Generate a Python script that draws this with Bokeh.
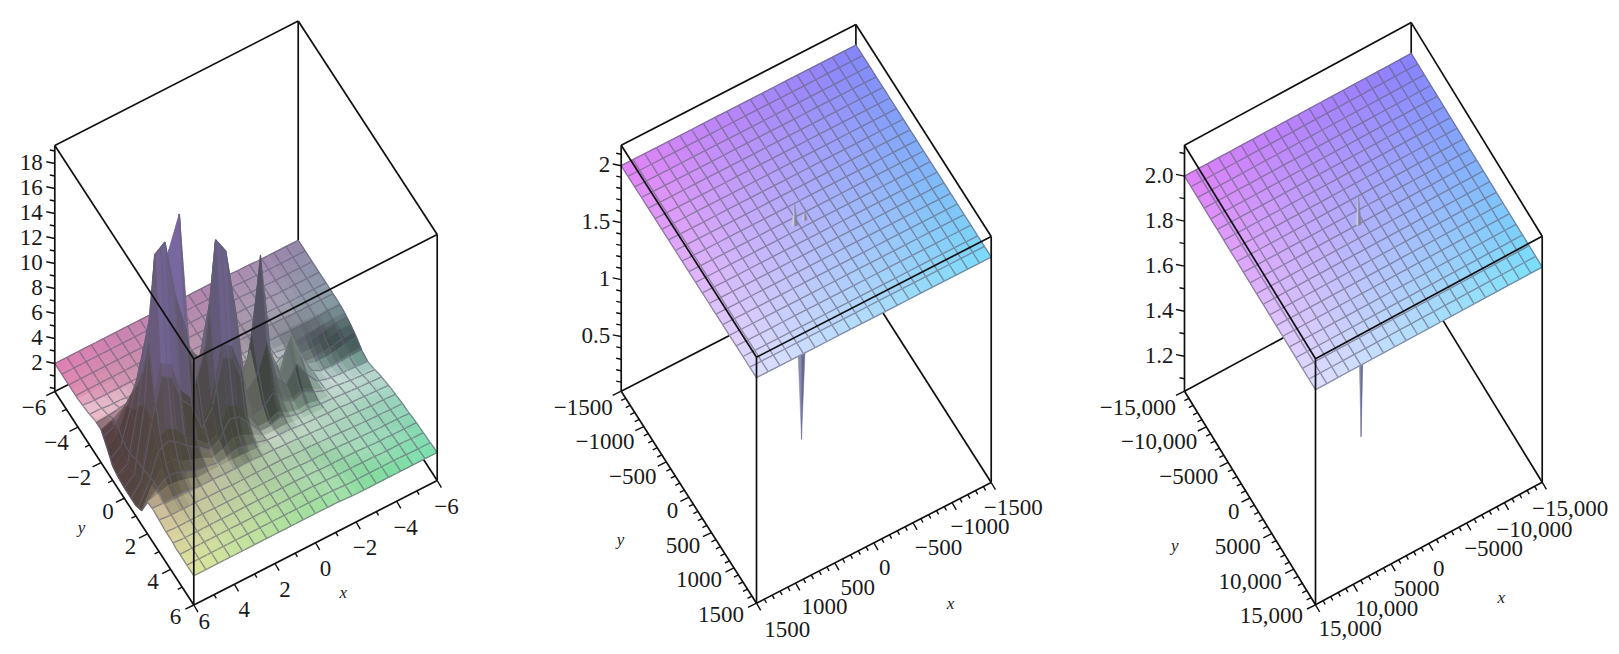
import numpy as np
from bokeh.core.properties import value
from bokeh.embed import file_html
from bokeh.layouts import row
from bokeh.models import Range1d
from bokeh.plotting import figure
from bokeh.resources import INLINE

# ---------- data ----------
# heights of the left surface: one row per x (-6 .. 6), one column per y (-6 .. 6), step 0.5
Z1_ROWS = [
 [1.9,1.9,1.9,1.9,1.9,1.9,1.9,1.9,1.8,1.6,1.3,0.9,0.75,0.9,1.15,1.3,1.45,1.55,1.65,1.7,1.8,1.85,1.9,1.95,2.0],
 [1.9,1.9,1.9,1.9,1.9,1.9,1.9,1.9,1.8,1.6,1.2,0.9,0.8,0.95,1.2,1.35,1.5,1.6,1.65,1.75,1.8,1.85,1.9,1.95,2.0],
 [1.9,1.9,1.9,1.9,1.9,1.9,1.9,1.85,1.75,1.4,1.0,0.8,0.85,1.0,1.25,1.4,1.55,1.6,1.7,1.75,1.8,1.9,1.95,1.95,2.0],
 [1.9,1.9,1.9,1.9,1.9,1.9,1.9,1.85,1.65,1.25,0.9,0.75,0.9,1.1,1.3,1.45,1.6,1.65,1.7,1.75,1.85,1.9,1.95,2.0,2.0],
 [1.9,1.9,1.9,1.9,1.9,1.9,1.9,1.85,1.6,1.2,0.9,0.8,1.0,1.25,1.4,1.5,1.6,1.7,1.75,1.8,1.85,1.9,1.95,2.0,2.0],
 [1.95,1.95,1.95,1.95,1.95,1.95,1.95,1.85,1.6,1.25,1.1,1.3,1.25,1.3,1.45,1.6,1.7,1.75,1.8,1.85,1.9,1.95,2.0,2.0,2.0],
 [1.95,1.95,1.95,1.95,1.95,1.95,1.95,1.9,1.75,1.6,2.0,2.9,2.2,1.7,1.5,1.6,1.7,1.8,1.85,1.9,1.95,2.0,2.0,2.0,2.0],
 [2.0,2.0,2.0,2.0,2.0,2.0,2.0,1.9,1.8,1.9,2.8,5.0,3.4,2.2,1.7,1.65,1.75,1.85,1.9,1.95,2.0,2.0,2.0,2.0,2.0],
 [2.0,2.0,2.0,2.0,2.0,2.0,2.0,1.9,1.8,1.75,2.0,2.4,2.2,1.8,1.6,1.7,1.8,1.9,1.95,2.0,2.0,2.0,2.0,2.0,2.0],
 [2.0,2.0,2.0,2.0,2.0,2.0,2.0,1.95,1.85,1.95,2.6,4.5,3.2,2.3,1.8,1.8,1.85,1.95,2.0,2.0,2.0,2.0,2.05,2.05,2.05],
 [2.0,2.0,2.0,2.0,2.0,2.0,2.0,1.95,2.0,3.0,5.5,12.7,6.5,3.5,2.3,1.9,1.95,2.0,2.0,2.0,2.05,2.05,2.05,2.1,2.1],
 [2.0,2.0,2.0,2.0,2.0,2.0,2.0,1.95,1.95,2.2,3.0,5.5,4.0,2.6,1.9,1.85,2.0,2.05,2.05,2.05,2.05,2.1,2.1,2.1,2.1],
 [2.0,2.0,2.0,2.0,2.0,2.0,2.0,2.0,1.9,1.8,2.2,3.0,3.2,2.4,1.9,1.9,2.05,2.1,2.1,2.1,2.1,2.1,2.1,2.1,2.1],
 [2.0,2.0,2.0,2.0,2.0,2.0,2.0,2.0,1.95,2.4,4.0,8.0,10.0,6.0,3.2,2.4,2.1,2.1,2.1,2.1,2.1,2.1,2.1,2.1,2.1],
 [2.0,2.0,2.0,2.0,2.0,2.0,2.0,2.0,2.1,3.0,5.5,10.0,15.4,8.5,4.5,2.8,2.15,2.15,2.1,2.1,2.1,2.1,2.1,2.1,2.1],
 [2.0,2.0,2.0,2.0,2.0,2.0,2.0,2.0,2.1,3.0,6.0,11.0,16.7,9.0,4.8,3.0,2.2,2.15,2.1,2.1,2.1,2.1,2.1,2.1,2.1],
 [2.0,2.0,2.0,2.0,2.0,2.0,2.0,2.0,1.95,2.4,3.6,7.0,8.5,5.0,3.0,2.5,2.2,2.15,2.1,2.1,2.1,2.1,2.1,2.1,2.1],
 [2.0,2.0,2.0,2.0,2.0,2.0,2.0,2.0,2.0,2.5,4.5,8.0,6.0,3.5,2.6,2.2,2.2,2.15,2.1,2.1,2.1,2.1,2.1,2.1,2.1],
 [2.0,2.0,2.0,2.0,2.0,2.0,2.0,2.1,2.6,4.5,9.0,19.3,11.0,6.0,3.4,2.6,2.2,2.2,2.15,2.1,2.1,2.1,2.1,2.1,2.1],
 [2.0,2.0,2.0,2.0,2.0,2.0,2.0,2.2,3.0,5.5,11.0,16.9,14.0,7.0,4.0,2.9,2.2,2.2,2.15,2.1,2.1,2.1,2.1,2.1,2.1],
 [2.0,2.0,2.0,2.0,2.0,2.0,2.0,2.3,3.2,6.0,10.0,14.0,18.6,9.5,5.0,3.2,2.5,2.2,2.2,2.15,2.1,2.1,2.1,2.1,2.1],
 [2.0,2.0,2.0,2.0,2.0,2.0,2.1,2.5,3.6,6.0,9.0,12.0,18.0,10.0,5.5,3.8,2.7,2.3,2.2,2.15,2.1,2.1,2.1,2.1,2.1],
 [2.0,2.0,2.0,2.0,2.0,2.0,2.1,2.4,3.2,4.2,4.5,5.5,6.5,6.0,5.0,3.5,2.8,2.3,2.2,2.15,2.1,2.1,2.1,2.1,2.1],
 [2.0,2.0,2.0,2.0,2.0,2.0,2.2,2.4,2.7,2.2,1.5,1.2,1.3,1.5,2.0,2.5,2.5,2.3,2.2,2.15,2.1,2.1,2.1,2.1,2.1],
 [2.0,2.0,2.0,2.0,2.0,2.1,2.2,2.4,2.4,1.7,0.9,0.7,0.6,0.6,0.6,0.9,2.3,2.4,2.3,2.2,2.2,2.1,2.1,2.1,2.1],
]
# the two other surfaces are flat sheets, with a needle at the centre
PLANE2_LEVEL = 2.0
PLANE3_LEVEL = 2.0
DOWN2 = (60.0, 0.0, 0.02)      # x, y, z of the needle's lowest point
UP2 = [(190.0, 75.0, 2.18), (60.0, 70.0, 2.06)]
DOWN3 = (300.0, 0.0, 1.05)
UP3 = [(600.0, -60.0, 2.13)]

XY_RANGE1, Z_RANGE1 = (-6, 6), (-0.24, 19.44)
XY_RANGE2, Z_RANGE2 = (-1500, 1500), (0.02, 2.18)
XY_RANGE3, Z_RANGE3 = (-15000, 15000), (1.045, 2.137)

Y_TICKS1 = [-6, -4, -2, 0, 2, 4, 6]
Y_LABELS1 = ["−6", "−4", "−2", "0", "2", "4", "6"]
X_TICKS1 = [6, 4, 2, 0, -2, -4, -6]
X_LABELS1 = ["6", "4", "2", "0", "−2", "−4", "−6"]
Z_TICKS1 = [2, 4, 6, 8, 10, 12, 14, 16, 18]
Z_LABELS1 = ["2", "4", "6", "8", "10", "12", "14", "16", "18"]

Y_TICKS2 = [-1500, -1000, -500, 0, 500, 1000, 1500]
Y_LABELS2 = ["−1500", "−1000", "−500", "0", "500", "1000", "1500"]
X_TICKS2 = [1500, 1000, 500, 0, -500, -1000, -1500]
X_LABELS2 = ["1500", "1000", "500", "0", "−500", "−1000", "−1500"]
Z_TICKS2 = [0.5, 1.0, 1.5, 2.0]
Z_LABELS2 = ["0.5", "1", "1.5", "2"]

Y_TICKS3 = [-15000, -10000, -5000, 0, 5000, 10000, 15000]
Y_LABELS3 = ["−15,000", "−10,000", "−5000", "0", "5000", "10,000", "15,000"]
X_TICKS3 = [15000, 10000, 5000, 0, -5000, -10000, -15000]
X_LABELS3 = ["15,000", "10,000", "5000", "0", "−5000", "−10,000", "−15,000"]
Z_TICKS3 = [1.2, 1.4, 1.6, 1.8, 2.0]
Z_LABELS3 = ["1.2", "1.4", "1.6", "1.8", "2.0"]

# ---------- views and styles ----------
FONT = value("Liberation Serif")
TICK_SIZE = "23px"
WIDTHS = [470, 580, 561]
H = 646
GRID_GREY = np.array([128.0, 124.0, 150.0])
MESH_CELLS = 20


def lerp_hex(c):
    return np.array([int(c[i:i + 2], 16) for i in (1, 3, 5)], float)


def to_hex(c):
    c = np.clip(c, 0, 255).astype(int)
    return "#%02x%02x%02x" % tuple(c)


class View:
    def __init__(self, L, F, R, height, xr, zr):
        self.L, self.F, self.R = np.array(L, float), np.array(F, float), np.array(R, float)
        self.height, self.xr, self.zr = height, xr, zr

    def p(self, x, y, z):
        tx = (x - self.xr[0]) / (self.xr[1] - self.xr[0])
        ty = (y - self.xr[0]) / (self.xr[1] - self.xr[0])
        tz = (z - self.zr[0]) / (self.zr[1] - self.zr[0])
        s = self.L + (self.F - self.L) * ty + (self.R - self.F) * (1 - tx)
        return s[0], s[1] - self.height * tz


def make_fig(left, w):
    p = figure(width=w, height=H, x_range=Range1d(left, left + w), y_range=Range1d(H, 0),
               x_axis_type=None, y_axis_type=None, toolbar_location=None, output_backend="svg",
               min_border=0, outline_line_color=None, background_fill_color="white",
               border_fill_color="white")
    p.grid.visible = False
    return p


def box_points(v):
    x0, x1 = v.xr
    z0, z1 = v.zr
    return dict(
        L=v.p(x1, x0, z0), F=v.p(x1, x1, z0), R=v.p(x0, x1, z0), B=v.p(x0, x0, z0),
        LT=v.p(x1, x0, z1), FT=v.p(x1, x1, z1), RT=v.p(x0, x1, z1), BT=v.p(x0, x0, z1))


def draw_edges(p, pts, names, width=1.7):
    xs = [[pts[a][0], pts[b][0]] for a, b in names]
    ys = [[pts[a][1], pts[b][1]] for a, b in names]
    p.multi_line(xs, ys, line_color="#101010", line_width=width)


BACK_EDGES = [("L", "B"), ("B", "R"), ("B", "BT")]
FRONT_EDGES = [("L", "F"), ("F", "R"), ("L", "LT"), ("R", "RT"), ("F", "FT"),
               ("LT", "BT"), ("BT", "RT"), ("LT", "FT"), ("FT", "RT")]


def resample(A, src, dst):
    """Bilinear values of a grid A (rows, cols[, channels]) on the render coordinates."""
    idx = np.interp(dst, src, np.arange(len(src)))
    i0 = np.clip(np.floor(idx).astype(int), 0, len(src) - 2)
    f = idx - i0
    out = np.zeros((len(dst), len(dst)) + A.shape[2:])
    for a, (ia, fa) in enumerate(zip(i0, f)):
        for b, (ib, fb) in enumerate(zip(i0, f)):
            out[a, b] = (A[ia, ib] * (1 - fa) * (1 - fb) + A[ia + 1, ib] * fa * (1 - fb)
                         + A[ia, ib + 1] * (1 - fa) * fb + A[ia + 1, ib + 1] * fa * fb)
    return out


def surface_patches(v, Z, corner_cols, shade=False):
    """Painter-ordered cells (far to near) and their mesh lines through one patches glyph."""
    m = Z.shape[0]
    span = v.xr[1] - v.xr[0]
    data_c = np.linspace(v.xr[0], v.xr[1], m)
    mesh_c = np.linspace(v.xr[0], v.xr[1], MESH_CELLS + 1)
    scale = 1000.0 / span
    coords = np.array(sorted(set(np.round(data_c * scale, 4)) | set(np.round(mesh_c * scale, 4)))) / scale
    mesh_set = set(np.round(mesh_c * scale, 4))
    on_mesh = [round(float(c * scale), 4) in mesh_set for c in coords]

    cL, cB, cR, cF = [lerp_hex(c) for c in corner_cols]
    cols = np.zeros((m, m, 3))
    for i in range(m):
        for j in range(m):
            a, b = i / (m - 1), j / (m - 1)   # a: 1 at x max, b: 1 at y max
            cols[i, j] = (cB * (1 - a) + cL * a) * (1 - b) + (cR * (1 - a) + cF * a) * b
    if shade:
        gx, gy = np.gradient(Z, data_c, data_c)
        nx, ny, nz = -gx * 1.3, -gy * 1.3, np.ones_like(Z)
        norm = np.sqrt(nx ** 2 + ny ** 2 + nz ** 2)
        light = np.array([-0.42, -0.5, 0.76])
        dot = (nx * light[0] + ny * light[1] + nz * light[2]) / norm
        s = 0.38 + 0.62 * np.clip(dot, 0, None) / 0.76
        purple = lerp_hex("#7b6cab")
        for i in range(m):
            for j in range(m):
                c = cols[i, j] * min(s[i, j], 1.0)
                if s[i, j] > 1:
                    c = c + (255 - c) * min((s[i, j] - 1) * 2.8, 0.85)
                t = np.clip((Z[i, j] - 6.0) / 6.0, 0, 0.9)
                cols[i, j] = c * (1 - t) + purple * t

    RZ = resample(Z, data_c, coords)
    RC = resample(cols, data_c, coords)
    n = len(coords)
    S = [[v.p(coords[i], coords[j], RZ[i, j]) for j in range(n)] for i in range(n)]

    PX, PY, FC, LC, LW, FA = [], [], [], [], [], []

    def add_line(a, b, col):
        PX.append([a[0], b[0]]); PY.append([a[1], b[1]])
        FC.append("#ffffff"); LC.append(to_hex(0.5 * col * 0.72 + 0.5 * GRID_GREY))
        LW.append(1.35); FA.append(0.0)

    order = sorted(((i, j) for i in range(n - 1) for j in range(n - 1)), key=lambda c: c[0] + c[1])
    for i, j in order:
        q = [S[i][j], S[i][j + 1], S[i + 1][j + 1], S[i + 1][j]]
        col = (RC[i, j] + RC[i + 1, j] + RC[i, j + 1] + RC[i + 1, j + 1]) / 4
        h = to_hex(col)
        PX.append([c[0] for c in q]); PY.append([c[1] for c in q])
        FC.append(h); LC.append(h); LW.append(0.7); FA.append(1.0)
        if on_mesh[j]:
            add_line(S[i][j], S[i + 1][j], col)
        if on_mesh[i]:
            add_line(S[i][j], S[i][j + 1], col)
        if i == n - 2:
            add_line(S[i + 1][j], S[i + 1][j + 1], col)
        if j == n - 2:
            add_line(S[i][j + 1], S[i + 1][j + 1], col)
    return dict(xs=PX, ys=PY, fill_color=FC, line_color=LC, line_width=LW, fill_alpha=FA)


def draw_surface(p, data):
    p.patches(xs="xs", ys="ys", fill_color="fill_color", line_color="line_color",
              line_width="line_width", fill_alpha="fill_alpha", source=data)


def ticks_and_labels(p, v, xt, xl, yt, yl, zt, zl, minor_xy, minor_z, x_off, z_right):
    x0, x1 = v.xr
    z0, z1 = v.zr
    sx0, sy0, sx1, sy1 = [], [], [], []

    def tick(a, d):
        sx0.append(a[0]); sy0.append(a[1]); sx1.append(a[0] + d[0]); sy1.append(a[1] + d[1])

    k = round((x1 - x0) / minor_xy)
    major_xy = set(round(t, 6) for t in xt)
    for m in range(k + 1):
        val = x0 + m * minor_xy
        big = round(val, 6) in major_xy
        tick(v.p(x1, val, z0), (-8.5, 4.2) if big else (-4.5, 2.2))
        tick(v.p(val, x1, z0), (4.2, 7.2) if big else (2.2, 3.8))
    zs = np.arange(np.ceil(z0 / minor_z) * minor_z, z1 + 1e-9, minor_z)
    major_z = set(round(t, 6) for t in zt)
    for val in zs:
        big = round(float(val), 6) in major_z
        tick(v.p(x1, x0, float(val)), (-8.5, -1.7) if big else (-5, -1))
    p.segment(sx0, sy0, sx1, sy1, line_color="#101010", line_width=1.4)

    ya = [v.p(x1, t, z0) for t in yt]
    p.text([a[0] + d for a, d in zip(ya, np.linspace(-8.5, -12.5, len(ya)))],
           [a[1] + d for a, d in zip(ya, np.linspace(16, 11, len(ya)))],
           text=yl, text_align="right", text_baseline="middle", text_font=FONT,
           text_font_size=TICK_SIZE, text_color="#1a1a1a")
    xa = [v.p(t, x1, z0) for t in xt]
    p.text([a[0] + o[0] for a, o in zip(xa, x_off)], [a[1] + o[1] for a, o in zip(xa, x_off)],
           text=xl, text_align="center", text_baseline="middle", text_font=FONT,
           text_font_size=TICK_SIZE, text_color="#1a1a1a")
    za = [v.p(x1, x0, t) for t in zt]
    p.text([a[0] + z_right for a in za], [a[1] - 1 for a in za],
           text=zl, text_align="right", text_baseline="middle", text_font=FONT,
           text_font_size=TICK_SIZE, text_color="#1a1a1a")


def axis_letters(p, xpos, ypos):
    p.text([xpos[0], ypos[0]], [xpos[1], ypos[1]], text=["x", "y"], text_align="center",
           text_baseline="middle", text_font=FONT, text_font_size="17px", text_font_style="italic",
           text_color="#222222")


def needle_down(p, v, tip, level, half, colors):
    base = v.p(tip[0], tip[1], level)
    t = v.p(*tip)
    p.patches([[base[0] - half, base[0], t[0]], [base[0], base[0] + half, t[0]]],
              [[base[1], base[1], t[1]], [base[1], base[1], t[1]]],
              fill_color=colors, line_color=colors, line_width=0.5)


def needle_up(p, v, tips, level, half, colors):
    for tip, h in zip(tips, half):
        base = v.p(tip[0], tip[1], level)
        t = v.p(*tip)
        p.patches([[base[0] - h, base[0], t[0]], [base[0], base[0] + h, t[0]]],
                  [[base[1] + 1, base[1] + 2, t[1]], [base[1] + 2, base[1] + 1, t[1]]],
                  fill_color=colors, line_color=colors, line_width=0.5)


def plane_panel(p, v, level, corners, down, ups, down_half, up_half,
                xt, xl, yt, yl, zt, zl, minor_xy, minor_z, x_off, xpos, ypos):
    pts = box_points(v)
    draw_edges(p, pts, BACK_EDGES)
    needle_down(p, v, down, level, down_half, ["#8b8bab", "#666a92"])
    Z = np.array([[level, level], [level, level]])
    draw_surface(p, surface_patches(v, Z, corners))
    needle_up(p, v, ups, level, up_half, ["#c9c9e0", "#85849f"])
    draw_edges(p, pts, FRONT_EDGES)
    ticks_and_labels(p, v, xt, xl, yt, yl, zt, zl, minor_xy, minor_z, x_off, -11)
    axis_letters(p, xpos, ypos)


# ---------- panel 1 ----------
p1 = make_fig(0, WIDTHS[0])
v1 = View((54.3, 391), (193.3, 604.5), (436.7, 480), 246, XY_RANGE1, Z_RANGE1)
pts1 = box_points(v1)
draw_edges(p1, pts1, BACK_EDGES)
draw_surface(p1, surface_patches(v1, np.array(Z1_ROWS), ["#e07fb4", "#9488ab", "#68dca2", "#dde79c"],
                                 shade=True))
draw_edges(p1, pts1, FRONT_EDGES)
ticks_and_labels(p1, v1, X_TICKS1, X_LABELS1, Y_TICKS1, Y_LABELS1, Z_TICKS1, Z_LABELS1, 1, 1,
                 [(10.5, 16), (10, 25), (10, 25.5), (10, 25.7), (9, 25.5), (9, 25.8), (9.3, 26)], -12)
axis_letters(p1, (342.8, 591.6), (81, 526.7))

# ---------- panel 2 ----------
p2 = make_fig(WIDTHS[0], WIDTHS[1])
v2 = View((620.7, 390.7), (756, 602.7), (990.7, 482), 246, XY_RANGE2, Z_RANGE2)
plane_panel(p2, v2, PLANE2_LEVEL, ["#e484f6", "#8484fa", "#7adcf9", "#e0e0ff"], DOWN2, UP2, 9, [3, 2.5],
            X_TICKS2, X_LABELS2, Y_TICKS2, Y_LABELS2, Z_TICKS2, Z_LABELS2, 100, 0.1,
            [(30.8, 26.3), (29, 23.3), (23, 24.3), (11, 24.3), (25.5, 24.3), (28, 24), (22, 25)],
            (950, 603.3), (620, 539))

# ---------- panel 3 ----------
p3 = make_fig(WIDTHS[0] + WIDTHS[1], WIDTHS[2])
v3 = View((1184, 390.7), (1315, 604.3), (1541.7, 481.7), 246, XY_RANGE3, Z_RANGE3)
plane_panel(p3, v3, PLANE3_LEVEL, ["#e080f8", "#8880ff", "#7ae2fa", "#e0e0ff"], DOWN3, UP3, 5, [2.5],
            X_TICKS3, X_LABELS3, Y_TICKS3, Y_LABELS3, Z_TICKS3, Z_LABELS3, 1000, 0.1,
            [(34.7, 24), (33.4, 24.5), (25.4, 24.3), (10, 25), (27, 25.5), (30, 27), (28, 26)],
            (1500.7, 596.7), (1174.3, 545))

page = row(p1, p2, p3, spacing=0)
open("out.html", "w").write(file_html(page, INLINE))
